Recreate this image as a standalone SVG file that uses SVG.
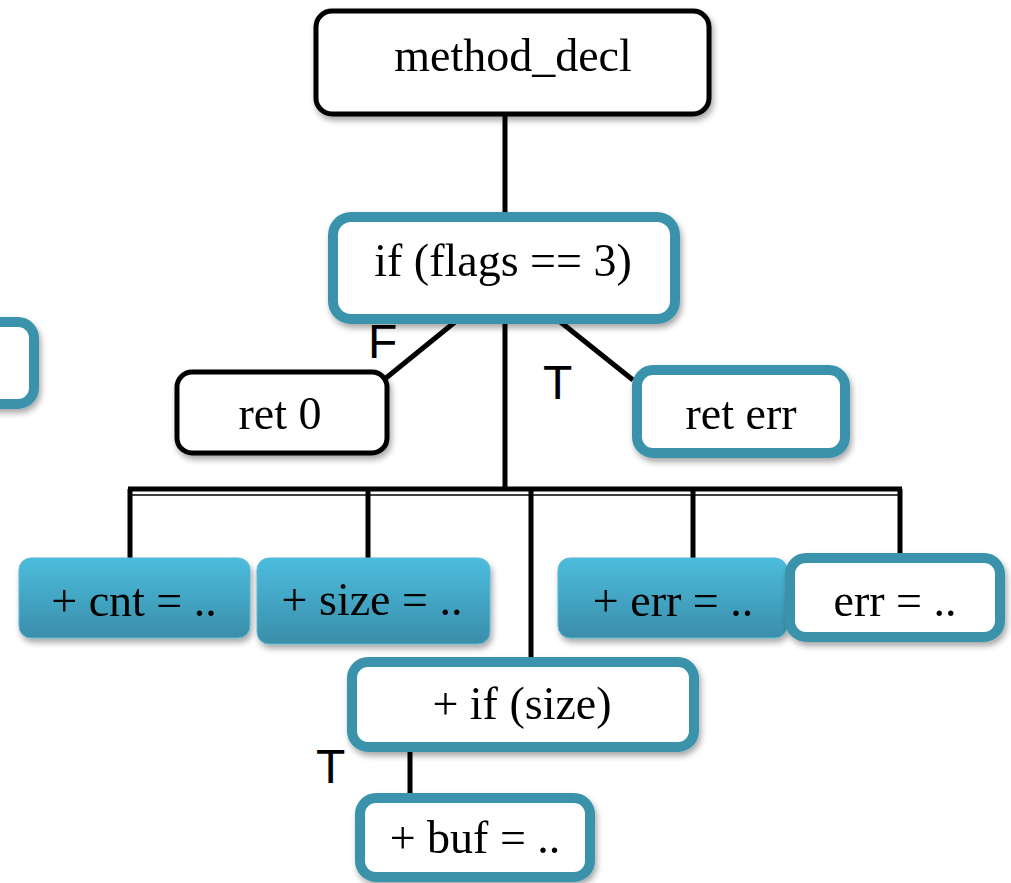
<svg xmlns="http://www.w3.org/2000/svg" width="1011" height="883" viewBox="0 0 1011 883">
<defs>
<linearGradient id="fillg" x1="0" y1="0" x2="0" y2="1">
<stop offset="0" stop-color="#4cbcdd"/>
<stop offset="1" stop-color="#3a8eaa"/>
</linearGradient>
<filter id="sh" x="-20%" y="-20%" width="140%" height="150%">
<feGaussianBlur in="SourceAlpha" stdDeviation="3"/>
<feOffset dx="2" dy="4" result="b"/>
<feComponentTransfer><feFuncA type="linear" slope="0.35"/></feComponentTransfer>
<feMerge><feMergeNode/><feMergeNode in="SourceGraphic"/></feMerge>
</filter>
</defs>
<style>
.blk{fill:#fff;stroke:#000;stroke-width:5}
.teal{fill:#fff;stroke:#3a93ab;stroke-width:10}
.fill{fill:url(#fillg);stroke:#5ab8d2;stroke-width:1}
.t{font-family:"Liberation Serif",serif;font-size:46px;text-anchor:middle;fill:#000}
.lab{font-family:"Liberation Sans",sans-serif;font-size:48px;fill:#000}
.ln{stroke:#000;stroke-width:5;fill:none}
</style>
<rect x="0" y="0" width="1011" height="883" fill="#fff"/>
<g id="connectors">
<line class="ln" x1="505" y1="114" x2="505" y2="217"/>
<line class="ln" x1="505" y1="322" x2="505" y2="489"/>
<line class="ln" x1="455" y1="322" x2="386" y2="378"/>
<line class="ln" x1="558" y1="320" x2="633" y2="380"/>
<line class="ln" x1="128" y1="489" x2="902" y2="489"/>
<line x1="128" y1="495" x2="902" y2="495" stroke="#000" stroke-width="1.5"/>
<line class="ln" x1="130" y1="489" x2="130" y2="558"/>
<line class="ln" x1="368" y1="489" x2="368" y2="558"/>
<line class="ln" x1="531" y1="489" x2="531" y2="658"/>
<line class="ln" x1="693" y1="489" x2="693" y2="558"/>
<line class="ln" x1="900" y1="489" x2="900" y2="556"/>
<line class="ln" x1="410" y1="750" x2="410" y2="794"/>
</g>
<g id="labels">
<text class="lab" x="368" y="358">F</text>
<text class="lab" x="543" y="399">T</text>
<text class="lab" x="316" y="783">T</text>
</g>
<g id="left-partial" filter="url(#sh)">
<rect class="teal" x="-60" y="322" width="94" height="82" rx="16"/>
</g>
<g id="method_decl" filter="url(#sh)">
<rect class="blk" x="316" y="11" width="393" height="103" rx="16"/>
<text class="t" x="513" y="71">method_decl</text>
</g>
<g id="if_flags" filter="url(#sh)">
<rect class="teal" x="333" y="217" width="342" height="102" rx="18"/>
<text class="t" x="503" y="276">if (flags == 3)</text>
</g>
<g id="ret0" filter="url(#sh)">
<rect class="blk" x="177" y="372" width="210" height="81" rx="15"/>
<text class="t" x="280" y="429">ret 0</text>
</g>
<g id="reterr" filter="url(#sh)">
<rect class="teal" x="637" y="370" width="208" height="83" rx="16"/>
<text class="t" x="741" y="429">ret err</text>
</g>
<g id="cnt" filter="url(#sh)">
<rect class="fill" x="19" y="558" width="231" height="80" rx="12"/>
<text class="t" x="134" y="616">+ cnt = ..</text>
</g>
<g id="size" filter="url(#sh)">
<rect class="fill" x="257" y="558" width="233" height="86" rx="12"/>
<text class="t" x="372" y="615">+ size = ..</text>
</g>
<g id="plus_err" filter="url(#sh)">
<rect class="fill" x="558" y="558" width="229" height="80" rx="12"/>
<text class="t" x="673" y="616">+ err = ..</text>
</g>
<g id="err" filter="url(#sh)">
<rect class="teal" x="790" y="558" width="210" height="79" rx="16"/>
<text class="t" x="895" y="616">err = ..</text>
</g>
<g id="if_size" filter="url(#sh)">
<rect class="teal" x="352" y="662" width="342" height="85" rx="16"/>
<text class="t" x="522" y="719">+ if (size)</text>
</g>
<g id="buf" filter="url(#sh)">
<rect class="teal" x="360" y="798" width="230" height="79" rx="16"/>
<text class="t" x="475" y="853">+ buf = ..</text>
</g>
</svg>
